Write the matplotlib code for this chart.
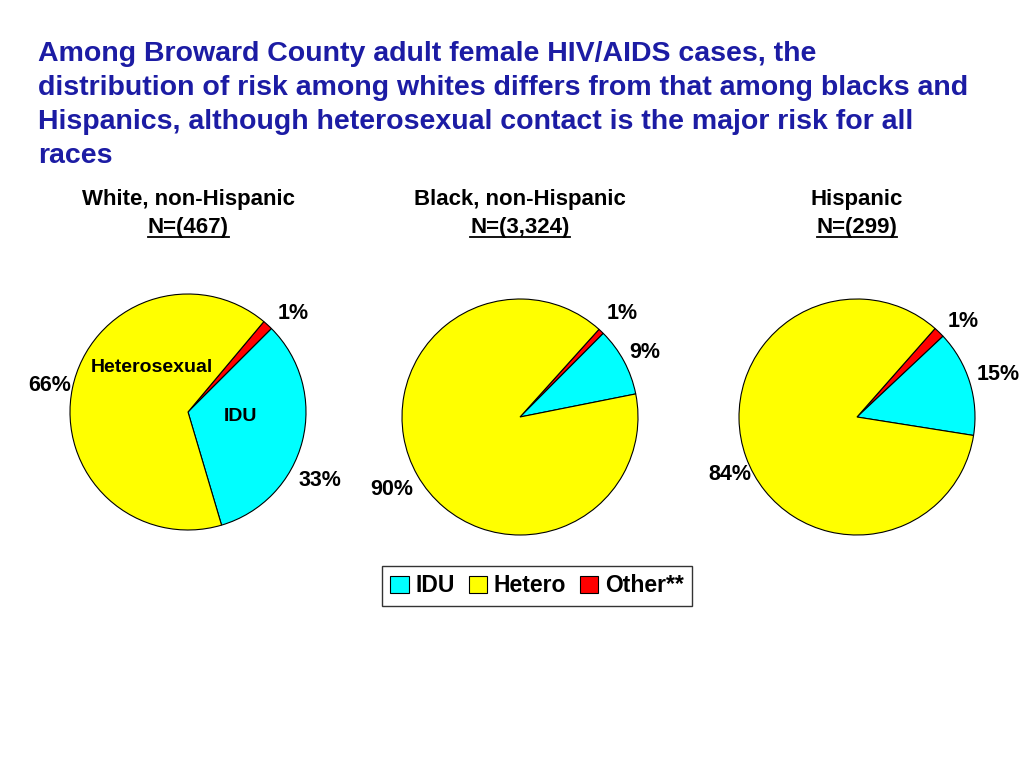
import matplotlib.pyplot as plt
from matplotlib.patches import Patch
from matplotlib.lines import Line2D
import numpy as np

plt.rcParams['font.family'] = ['Liberation Sans', 'DejaVu Sans']
plt.rcParams['font.weight'] = 'bold'

title = ("Among Broward County adult female HIV/AIDS cases, the\n"
         "distribution of risk among whites differs from that among blacks and\n"
         "Hispanics, although heterosexual contact is the major risk for all\n"
         "races")

groups = ['White, non-Hispanic', 'Black, non-Hispanic', 'Hispanic']
counts = ['N=(467)', 'N=(3,324)', 'N=(299)']

# slice order clockwise from the top right: Other, IDU, Hetero
categories = ['Other**', 'IDU', 'Hetero']
other = [1.4, 0.8, 1.5]
idu = [32.9, 9.4, 14.5]
hetero = [65.7, 89.8, 84.0]
pct_labels = [['1%', '33%', '66%'], ['1%', '9%', '90%'], ['1%', '15%', '84%']]
start_angles = [50, 48, 48.6]

colors = {'Other**': '#FF0000', 'IDU': '#00FFFF', 'Hetero': '#FFFF00'}
title_color = '#1C1CA4'

fig = plt.figure(figsize=(10.24, 7.68), dpi=100)
fig.text(0.037, 0.947, title, ha='left', va='top', fontsize=20.5,
         color=title_color, fontweight='bold', linespacing=1.4)

# pie centres in pixels, radius 118 px
centres = [(188, 412), (520, 417), (857, 417)]
R = 118
L = 1.5
# per-label (angle offset, distance) tweaks to mimic the original placement
label_pos = [
    [(-4.5, 1.22), (-13.3, 1.26), (1, 1.19)],
    [(-1.3, 1.23), (-0.7, 1.19), (0, 1.25)],
    [(-3.7, 1.21), (-0.5, 1.25), (4.4, 1.18)],
]

axes = []
for i, (cx, cy) in enumerate(centres):
    size = 2 * L * R
    ax = fig.add_axes([(cx - size / 2) / 1024, (768 - cy - size / 2) / 768,
                       size / 1024, size / 768])
    vals = [other[i], idu[i], hetero[i]]
    wedges, _ = ax.pie(vals, colors=[colors[c] for c in categories],
                       startangle=start_angles[i], counterclock=False,
                       wedgeprops=dict(edgecolor='black', linewidth=0.8))
    ax.set_xlim(-L, L)
    ax.set_ylim(-L, L)
    ax.set_aspect('equal')
    for w, lab, (doff, dist) in zip(wedges, pct_labels[i], label_pos[i]):
        ang = np.deg2rad((w.theta1 + w.theta2) / 2 + doff)
        ax.text(dist * np.cos(ang), dist * np.sin(ang), lab, ha='center',
                va='center', fontsize=15.5, fontweight='bold')
    axes.append(ax)

# in-slice labels on the first pie
axes[0].text(-0.305, 0.373, 'Heterosexual', ha='center', va='center',
             fontsize=14, fontweight='bold')
axes[0].text(0.449, -0.042, 'IDU', ha='center', va='center',
             fontsize=14, fontweight='bold')

# group headers
fig.canvas.draw()
renderer = fig.canvas.get_renderer()
for (cx, cy), g, n in zip(centres, groups, counts):
    fig.text(cx / 1024, 1 - 200 / 768, g, ha='center', va='center',
             fontsize=16, fontweight='bold')
    t = fig.text(cx / 1024, 1 - 227 / 768, n, ha='center', va='center',
                 fontsize=16, fontweight='bold')
    bb = t.get_window_extent(renderer)
    y = (bb.y0 + 1) / 768
    fig.add_artist(Line2D([bb.x0 / 1024, bb.x1 / 1024], [y, y],
                          color='black', linewidth=1.3))

handles = [Patch(facecolor=colors[c], edgecolor='black', linewidth=0.8)
           for c in ['IDU', 'Hetero', 'Other**']]
fig.legend(handles, ['IDU', 'Hetero', 'Other**'], loc='center',
           bbox_to_anchor=(537 / 1024, 1 - 586 / 768), ncol=3,
           frameon=True, fancybox=False, edgecolor='black',
           handlelength=0.8, handleheight=0.8, handletextpad=0.3,
           columnspacing=0.6, borderpad=0.35, prop={'weight': 'bold', 'size': 16.5})

fig.savefig('out.png', dpi=100)
